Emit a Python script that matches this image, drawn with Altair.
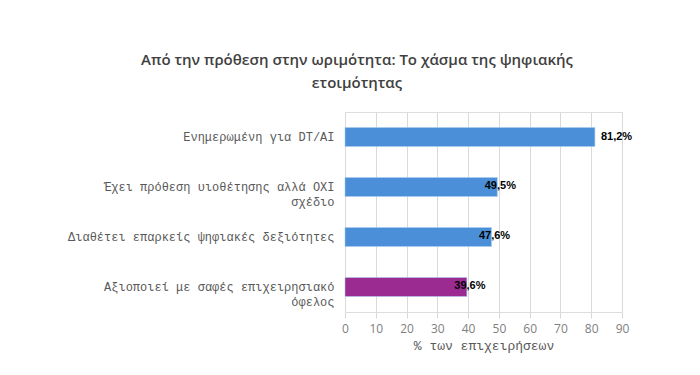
import altair as alt
import pandas as pd

categories = [
    "Ενημερωμένη για DT/AI",
    "Έχει πρόθεση υιοθέτησης αλλά ΟΧΙ\nσχέδιο",
    "Διαθέτει επαρκείς ψηφιακές δεξιότητες",
    "Αξιοποιεί με σαφές επιχειρησιακό\nόφελος",
]
values = [81.2, 49.5, 47.6, 39.6]
colors = ["#4A8FD8", "#4A8FD8", "#4A8FD8", "#9B2A91"]
x_ticks = [0, 10, 20, 30, 40, 50, 60, 70, 80, 90]

df = pd.DataFrame({
    "category": categories,
    "value": values,
    "label": [f"{v:.1f}".replace(".", ",") + "%" for v in values],
})

y_enc = alt.Y(
    "category:N",
    sort=categories,
    scale=alt.Scale(paddingInner=0.62, paddingOuter=0.31),
    axis=alt.Axis(
        title=None,
        labelExpr="split(datum.label, '\\n')",
        labelFont="Liberation Mono",
        labelFontSize=12,
        labelColor="#595959",
        labelPadding=11,
        labelLineHeight=15,
        labelLimit=400,
        ticks=False,
        domain=False,
        grid=False,
    ),
)

x_enc = alt.X(
    "value:Q",
    scale=alt.Scale(domain=[0, 90], nice=False),
    axis=alt.Axis(
        values=x_ticks,
        tickCount=10,
        title="% των επιχειρήσεων",
        titleFont="Liberation Mono",
        titleFontSize=13,
        titleFontWeight="normal",
        titleColor="#595959",
        titlePadding=5,
        labelFont="Open Sans",
        labelFontSize=12,
        labelColor="#808080",
        labelPadding=5,
        labelOverlap=False,
        labelFlush=False,
        gridColor="#D9D9D9",
        gridWidth=1,
        tickColor="#D9D9D9",
        tickSize=6,
        domain=False,
    ),
)

base = alt.Chart(df).encode(y=y_enc, x=x_enc)

bars = base.mark_bar(stroke="#A9CCF0", strokeWidth=0.6).encode(
    color=alt.Color("category:N", scale=alt.Scale(domain=categories, range=colors), legend=None),
)

lab_out = base.transform_filter("datum.value > 60").mark_text(
    align="left", dx=6, font="Liberation Sans", fontWeight="bold", fontSize=11, color="#000000"
).encode(text="label:N")

lab_in = base.transform_filter("datum.value <= 60").mark_text(
    align="center", dx=3, dy=-1, font="Liberation Sans", fontWeight="bold", fontSize=11, color="#000000"
).encode(text="label:N")

chart = alt.layer(bars, lab_out, lab_in).properties(
    width=277,
    height=200,
    autosize=alt.AutoSizeParams(type="none"),
    padding={"left": 345, "top": 112, "right": 78, "bottom": 63},
    title=alt.TitleParams(
        text=["Από την πρόθεση στην ωριμότητα: Το χάσμα της ψηφιακής", "ετοιμότητας"],
        anchor="start",
        align="center",
        dx=12,
        frame="group",
        font="Open Sans",
        fontSize=15,
        fontWeight=600,
        color="#404040",
        lineHeight=23,
        offset=21,
    ),
).configure_view(stroke=None).configure(background="white")

chart.save("out.html", embed_options={"renderer": "svg", "actions": False})
